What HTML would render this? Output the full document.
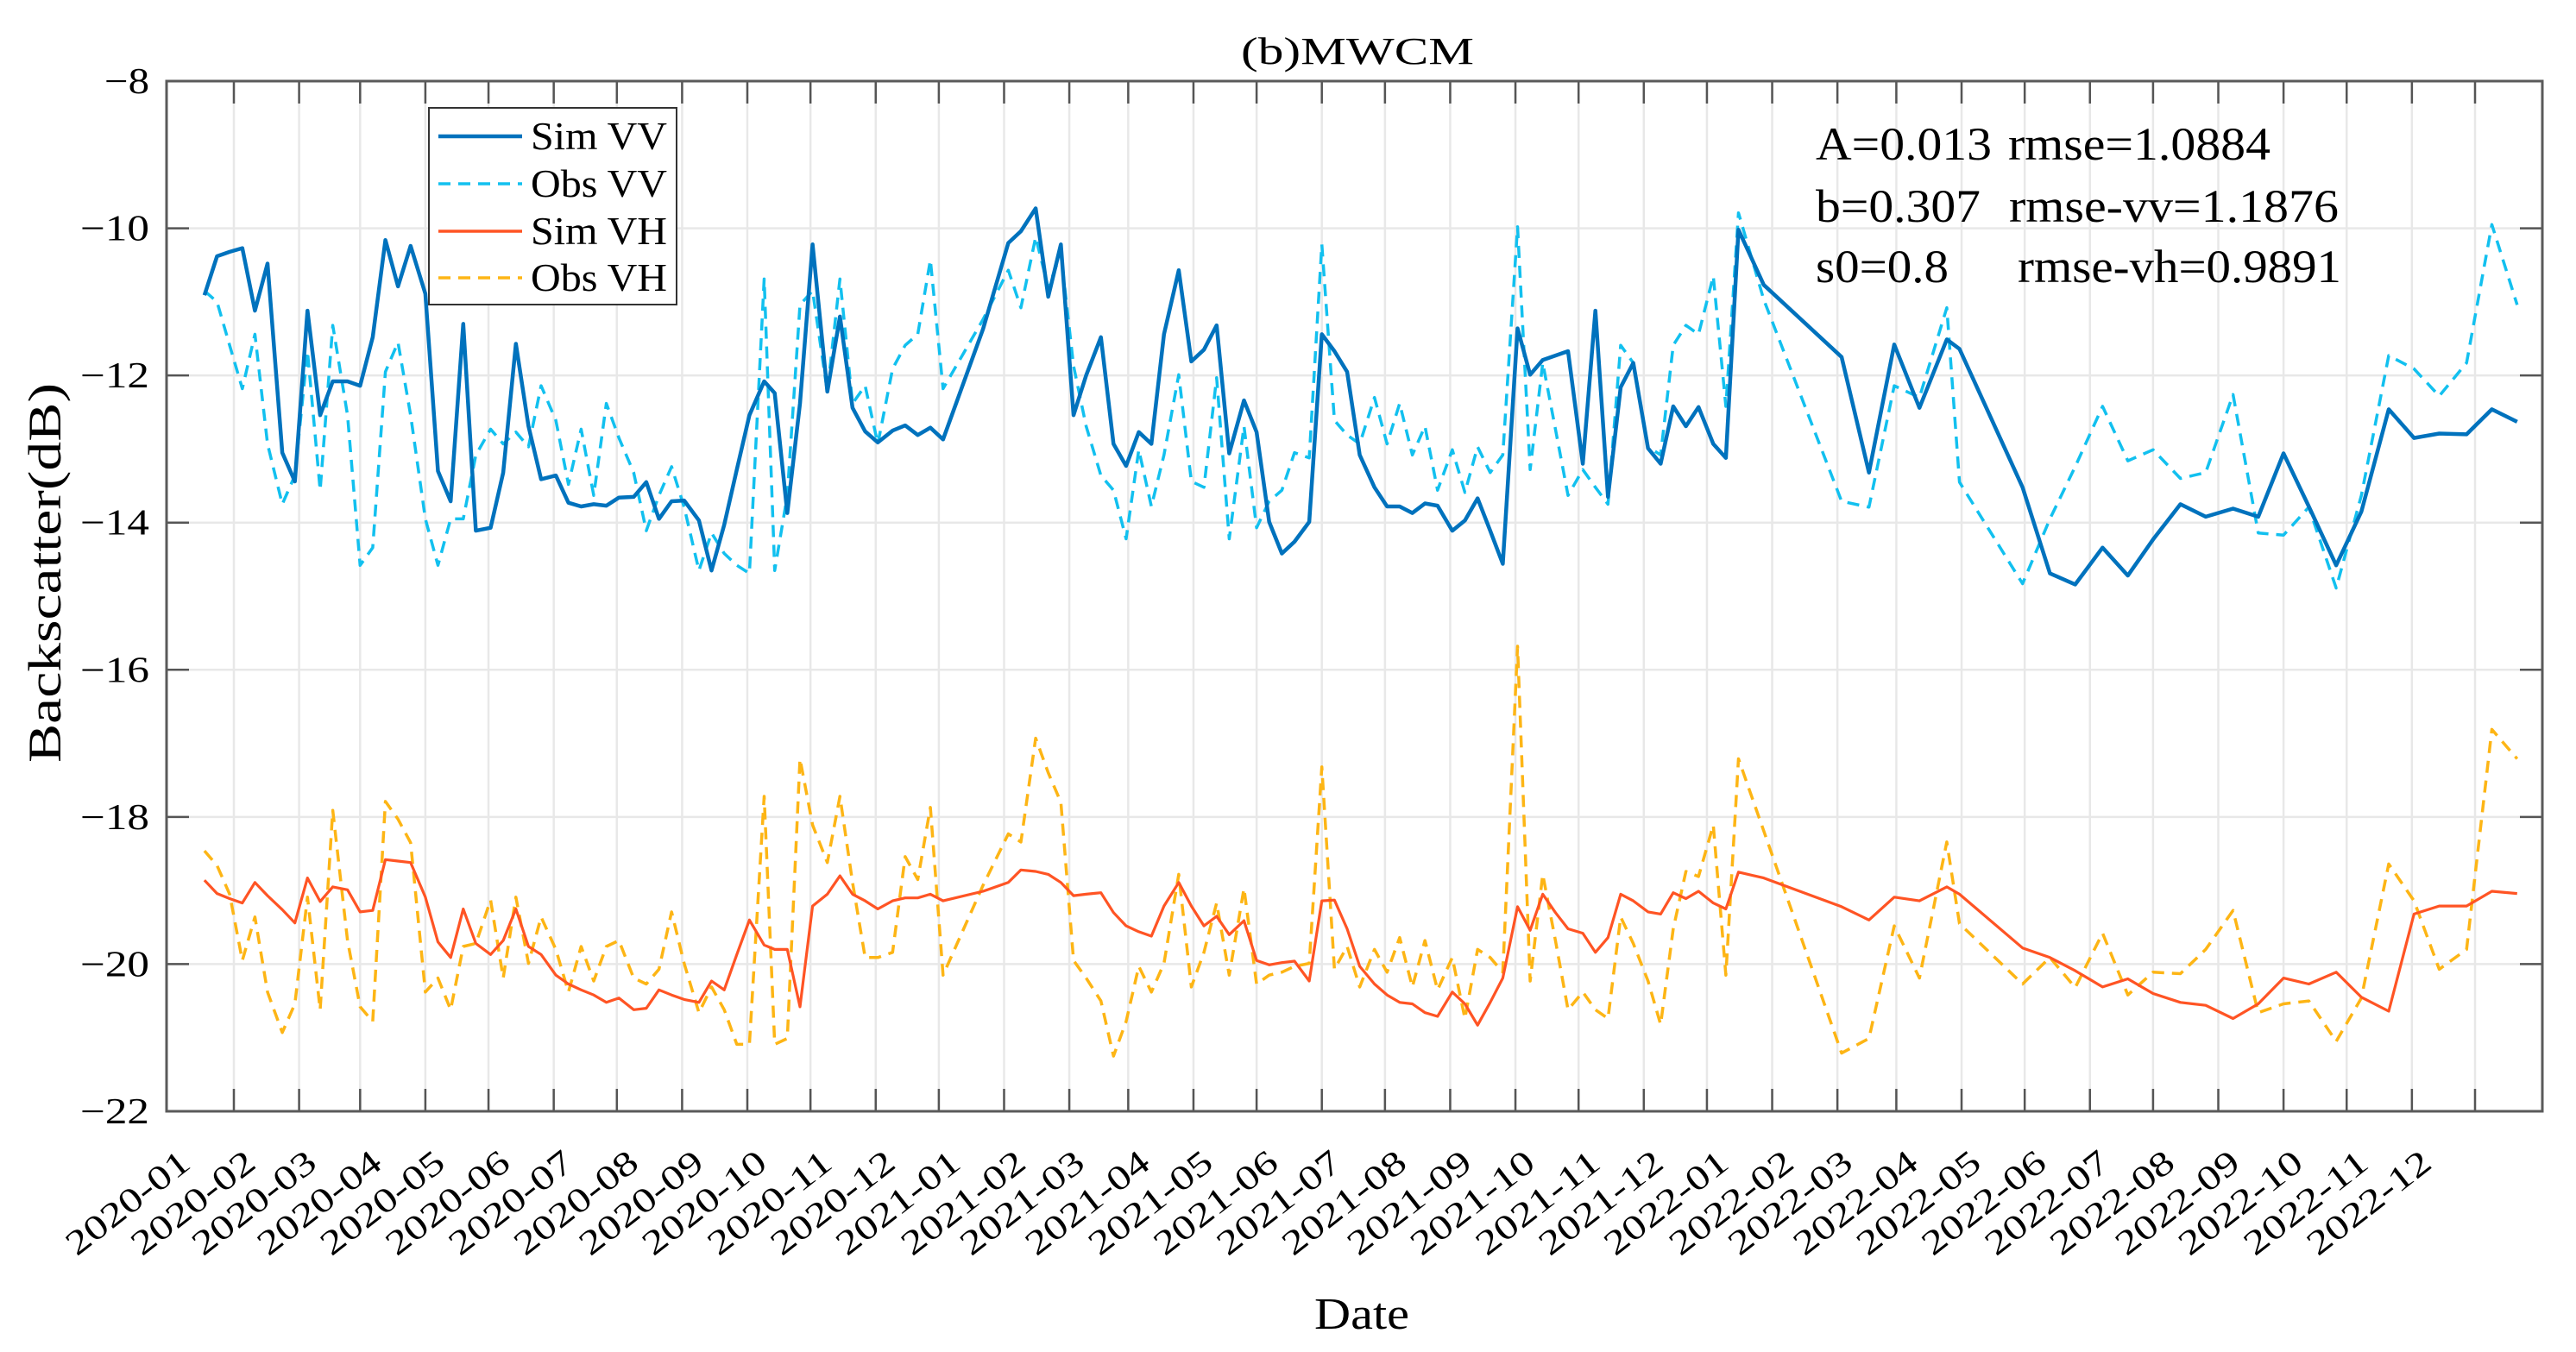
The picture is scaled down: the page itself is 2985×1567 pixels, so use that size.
<!DOCTYPE html>
<html><head><meta charset="utf-8"><style>
html,body{margin:0;padding:0;background:#fff;}
svg{display:block;font-family:"Liberation Serif",serif;}
</style></head><body>
<svg id="chart" width="2985" height="1567" viewBox="0 0 2985 1567" xmlns="http://www.w3.org/2000/svg">
<rect x="0" y="0" width="2985" height="1567" fill="#fff"/>
<g id="grid"></g>
<g id="series"></g>
<g id="axes"></g>
<text x="1573" y="74" font-size="44" text-anchor="middle" textLength="270" lengthAdjust="spacingAndGlyphs">(b)MWCM</text>
<text x="1578" y="1540" font-size="52" text-anchor="middle" textLength="110" lengthAdjust="spacingAndGlyphs">Date</text>
<text transform="translate(70,664) rotate(-90)" font-size="54" text-anchor="middle" textLength="440" lengthAdjust="spacingAndGlyphs">Backscatter(dB)</text>
<g>
<rect x="497" y="125" width="287" height="228" fill="#fff" stroke="#333" stroke-width="2"/>
<line x1="508" y1="158" x2="605" y2="158" stroke="#0072BD" stroke-width="4.5"/>
<text x="615" y="173" font-size="46" textLength="158" lengthAdjust="spacingAndGlyphs">Sim VV</text>
<line x1="508" y1="213" x2="605" y2="213" stroke="#12c0ef" stroke-width="3.5" stroke-dasharray="14 9"/>
<text x="615" y="228" font-size="46" textLength="158" lengthAdjust="spacingAndGlyphs">Obs VV</text>
<line x1="508" y1="268" x2="605" y2="268" stroke="#FF5424" stroke-width="3.5"/>
<text x="615" y="283" font-size="46" textLength="158" lengthAdjust="spacingAndGlyphs">Sim VH</text>
<line x1="508" y1="322" x2="605" y2="322" stroke="#FDB515" stroke-width="3.5" stroke-dasharray="14 9"/>
<text x="615" y="337" font-size="46" textLength="158" lengthAdjust="spacingAndGlyphs">Obs VH</text>
</g>
<g font-size="54">
<text x="2104" y="185" textLength="204" lengthAdjust="spacingAndGlyphs">A=0.013</text>
<text x="2327" y="185" textLength="304" lengthAdjust="spacingAndGlyphs">rmse=1.0884</text>
<text x="2104" y="257" textLength="191" lengthAdjust="spacingAndGlyphs">b=0.307</text>
<text x="2328" y="257" textLength="382" lengthAdjust="spacingAndGlyphs">rmse-vv=1.1876</text>
<text x="2104" y="327" textLength="154" lengthAdjust="spacingAndGlyphs">s0=0.8</text>
<text x="2338" y="327" textLength="375" lengthAdjust="spacingAndGlyphs">rmse-vh=0.9891</text>
</g>
</svg>
<script>
// days since 2020-01-01
const days = [-14,-8,-2,4,10,16,23,29,35,41,47,54,60,66,72,78,84,91,97,103,109,115,122,128,134,140,146,153,159,165,171,177,183,190,196,202,208,214,221,227,233,239,245,252,
257,263,269,275,282,288,294,300,306,313,319,325,331,337,356,368,374,381,387,393,399,405,412,418,424,430,436,442,449,455,461,467,473,480,486,492,498,504,511,517,523,529,535,
542,548,554,560,566,572,579,585,591,597,603,610,616,622,628,634,641,647,653,659,665,672,678,684,690,696,703,709,715,727,764,777,789,801,814,820,
850,863,875,888,900,912,925,937,950,962,974,986,999,1011,1024,1036,1048,1061,1073,1085];
const simVV = [-10.91,-10.38,-10.32,-10.27,-11.12,-10.48,-13.05,-13.44,-11.12,-12.54,-12.08,-12.08,-12.14,-11.48,-10.16,-10.79,-10.24,-10.89,-13.30,-13.71,-11.30,-14.11,-14.07,-13.32,-11.57,-12.69,-13.41,-13.36,-13.73,-13.78,-13.75,-13.77,-13.66,-13.65,-13.45,-13.95,-13.71,-13.70,-13.97,-14.65,-14.03,-13.28,-12.54,-12.08,
-12.24,-13.87,-12.38,-10.22,-12.22,-11.20,-12.44,-12.76,-12.91,-12.75,-12.68,-12.81,-12.71,-12.87,-11.37,-10.20,-10.04,-9.73,-10.93,-10.22,-12.54,-12.00,-11.48,-12.93,-13.23,-12.77,-12.93,-11.44,-10.57,-11.81,-11.65,-11.32,-13.06,-12.34,-12.77,-13.99,-14.42,-14.26,-13.99,-11.44,-11.67,-11.95,-13.08,
-13.52,-13.78,-13.78,-13.87,-13.74,-13.77,-14.11,-13.97,-13.67,-14.11,-14.56,-11.36,-11.99,-11.79,-11.73,-11.67,-13.20,-11.12,-13.65,-12.16,-11.83,-12.99,-13.20,-12.42,-12.69,-12.43,-12.93,-13.12,-10.02,-10.77,-11.75,-13.32,-11.58,-12.44,-11.51,-11.64,
-13.52,-14.69,-14.84,-14.34,-14.72,-14.23,-13.75,-13.92,-13.81,-13.92,-13.06,-13.78,-14.58,-13.85,-12.46,-12.85,-12.79,-12.80,-12.46,-12.63];
const obsVV = [-10.85,-11.00,-11.59,-12.18,-11.44,-12.93,-13.75,-13.36,-11.67,-13.56,-11.32,-12.54,-14.58,-14.34,-11.95,-11.55,-12.54,-13.95,-14.58,-13.95,-13.95,-13.08,-12.73,-12.93,-12.77,-12.97,-12.14,-12.61,-13.48,-12.73,-13.63,-12.38,-12.85,-13.32,-14.11,-13.63,-13.24,-13.79,-14.65,-14.14,-14.42,-14.58,-14.69,-10.69,
-14.65,-13.63,-11.04,-10.85,-12.22,-10.69,-12.38,-12.14,-12.93,-11.91,-11.59,-11.44,-10.43,-12.18,-11.24,-10.57,-11.08,-10.12,-10.81,-10.34,-11.87,-12.69,-13.36,-13.56,-14.22,-13.01,-13.78,-13.08,-11.99,-13.44,-13.52,-12.03,-14.22,-12.69,-14.07,-13.71,-13.56,-13.05,-13.12,-10.22,-12.61,-12.81,-12.93,
-12.30,-12.93,-12.38,-13.08,-12.69,-13.56,-13.01,-13.59,-12.97,-13.32,-13.08,-9.98,-13.28,-11.83,-12.73,-13.63,-13.28,-13.52,-13.75,-11.59,-11.83,-12.97,-13.08,-11.59,-11.32,-11.44,-10.65,-12.42,-9.79,-10.97,-13.71,-13.79,-12.14,-12.30,-11.08,-13.45,
-14.83,-13.95,-13.24,-12.42,-13.16,-13.01,-13.40,-13.32,-12.26,-14.14,-14.17,-13.79,-14.89,-13.63,-11.73,-11.91,-12.28,-11.83,-9.95,-11.04];
const simVH = [-18.86,-19.04,-19.11,-19.17,-18.89,-19.07,-19.26,-19.44,-18.83,-19.15,-18.95,-18.99,-19.29,-19.27,-18.58,-18.60,-18.62,-19.09,-19.70,-19.91,-19.25,-19.72,-19.87,-19.68,-19.25,-19.76,-19.87,-20.15,-20.27,-20.35,-20.42,-20.52,-20.46,-20.62,-20.60,-20.35,-20.42,-20.48,-20.52,-20.23,-20.35,-19.87,-19.40,-19.74,
-19.80,-19.80,-20.58,-19.21,-19.05,-18.80,-19.05,-19.14,-19.25,-19.14,-19.10,-19.10,-19.05,-19.14,-19.01,-18.89,-18.72,-18.74,-18.78,-18.89,-19.07,-19.05,-19.03,-19.30,-19.48,-19.56,-19.62,-19.21,-18.89,-19.21,-19.48,-19.35,-19.60,-19.41,-19.95,-20.01,-19.98,-19.96,-20.23,-19.14,-19.13,-19.52,-20.03,
-20.27,-20.42,-20.52,-20.54,-20.66,-20.71,-20.38,-20.54,-20.83,-20.52,-20.19,-19.22,-19.54,-19.05,-19.30,-19.52,-19.58,-19.84,-19.64,-19.05,-19.14,-19.29,-19.32,-19.03,-19.11,-19.01,-19.17,-19.25,-18.75,-18.83,-19.22,-19.40,-19.09,-19.14,-18.95,-19.05,
-19.78,-19.91,-20.09,-20.31,-20.20,-20.40,-20.52,-20.56,-20.74,-20.54,-20.19,-20.27,-20.11,-20.45,-20.64,-19.32,-19.21,-19.21,-19.01,-19.04];
const obsVH = [-18.46,-18.66,-19.05,-19.95,-19.36,-20.38,-20.93,-20.54,-19.09,-20.62,-17.91,-19.68,-20.58,-20.78,-17.79,-18.03,-18.35,-20.38,-20.19,-20.62,-19.76,-19.72,-19.13,-20.19,-19.09,-19.99,-19.36,-19.80,-20.38,-19.76,-20.23,-19.76,-19.68,-20.19,-20.27,-20.07,-19.29,-19.99,-20.66,-20.31,-20.62,-21.09,-21.09,-17.72,
-21.09,-21.01,-17.21,-18.11,-18.62,-17.72,-18.89,-19.91,-19.91,-19.84,-18.54,-18.85,-17.87,-20.15,-18.93,-18.23,-18.34,-16.93,-17.40,-17.80,-19.95,-20.19,-20.50,-21.25,-20.78,-20.03,-20.38,-19.99,-18.78,-20.31,-19.84,-19.17,-20.15,-18.97,-20.27,-20.15,-20.11,-20.03,-19.99,-17.32,-20.07,-19.76,-20.31,
-19.80,-20.11,-19.64,-20.31,-19.68,-20.35,-19.91,-20.74,-19.80,-19.91,-20.11,-15.68,-20.23,-18.78,-19.68,-20.62,-20.38,-20.62,-20.74,-19.36,-19.72,-20.23,-20.82,-19.52,-18.74,-18.81,-18.11,-20.15,-17.21,-18.19,-21.21,-21.01,-19.48,-20.19,-18.34,-19.45,
-20.27,-19.91,-20.32,-19.58,-20.42,-20.11,-20.13,-19.80,-19.27,-20.66,-20.54,-20.50,-21.05,-20.46,-18.64,-19.14,-20.07,-19.80,-16.81,-17.21];
const yTicks = [-8,-10,-12,-14,-16,-18,-20,-22];
const yTickLabels = ["−8","−10","−12","−14","−16","−18","−20","−22"];
const monthLabels = [];
for (let yr = 2020; yr <= 2022; yr++) for (let m = 1; m <= 12; m++) monthLabels.push(yr + "-" + (m < 10 ? "0" + m : m));

const L = 193, R = 2946, T = 94, B = 1288;
const X0 = 271, PXD = 2.4385;
const yMax = -8, yMin = -22;
function xScale(d) { return X0 + d * PXD; }
function yScale(v) { return T + (yMax - v) / (yMax - yMin) * (B - T); }
function dayOfLabel(lbl) {
  const p = lbl.split("-");
  return (Date.UTC(+p[0], +p[1] - 1, 1) - Date.UTC(2020, 0, 1)) / 86400000;
}
const NS = "http://www.w3.org/2000/svg";
function mk(tag, attrs, parent) {
  const e = document.createElementNS(NS, tag);
  for (const k in attrs) e.setAttribute(k, attrs[k]);
  parent.appendChild(e);
  return e;
}
const grid = document.getElementById("grid");
const axes = document.getElementById("axes");
const series = document.getElementById("series");

monthLabels.forEach(function (lbl) {
  const x = xScale(dayOfLabel(lbl));
  const g = mk("line", {x1: x, y1: T, x2: x, y2: B, stroke: "#e8e8e8", "stroke-width": 2.5}, grid);
  
  
  const t1 = mk("line", {x1: x, y1: B, x2: x, y2: B - 26, stroke: "#555", "stroke-width": 2.5}, axes);
  
  
  const t2 = mk("line", {x1: x, y1: T, x2: x, y2: T + 26, stroke: "#555", "stroke-width": 2.5}, axes);
  
  
  const tx = mk("text", {transform: "translate(" + (x - 48) + ",1352) rotate(-38)", "font-size": 40, "text-anchor": "end", textLength: 170, lengthAdjust: "spacingAndGlyphs"}, axes);
  tx.textContent = lbl;
  
  
});
yTicks.forEach(function (v, i) {
  const y = yScale(v);
  if (v !== yMax && v !== yMin) {
    const g = mk("line", {x1: L, y1: y, x2: R, y2: y, stroke: "#e8e8e8", "stroke-width": 2.5}, grid);
    
    
  }
  const t1 = mk("line", {x1: L, y1: y, x2: L + 26, y2: y, stroke: "#555", "stroke-width": 2.5}, axes);
  
  
  const t2 = mk("line", {x1: R, y1: y, x2: R - 26, y2: y, stroke: "#555", "stroke-width": 2.5}, axes);
  
  
  const lbl = yTickLabels[i];
  const tx = mk("text", {x: 173, y: y + 14, "font-size": 42, "text-anchor": "end", textLength: lbl.length > 2 ? 80 : 52, lengthAdjust: "spacingAndGlyphs"}, axes);
  tx.textContent = lbl;
  
  
});
const box = mk("rect", {x: L, y: T, width: R - L, height: B - T, fill: "none", stroke: "#5a5a5a", "stroke-width": 3}, axes);



function drawSeries(vals, color, width, dash, name) {
  let d = "";
  vals.forEach(function (v, i) { d += (i ? "L" : "M") + xScale(days[i]).toFixed(1) + "," + yScale(v).toFixed(1); });
  const p = mk("path", {d: d, fill: "none", stroke: color, "stroke-width": width, "stroke-linejoin": "round"}, series);
  if (dash) p.setAttribute("stroke-dasharray", dash);
  
  
}
drawSeries(obsVH, "#FDB515", 3.5, "14 9", "obs-vh-line");
drawSeries(simVH, "#FF5424", 3.2, null, "sim-vh-line");
drawSeries(obsVV, "#12c0ef", 3.5, "14 9", "obs-vv-line");
drawSeries(simVV, "#0072BD", 4.5, null, "sim-vv-line");
</script>
</body></html>
